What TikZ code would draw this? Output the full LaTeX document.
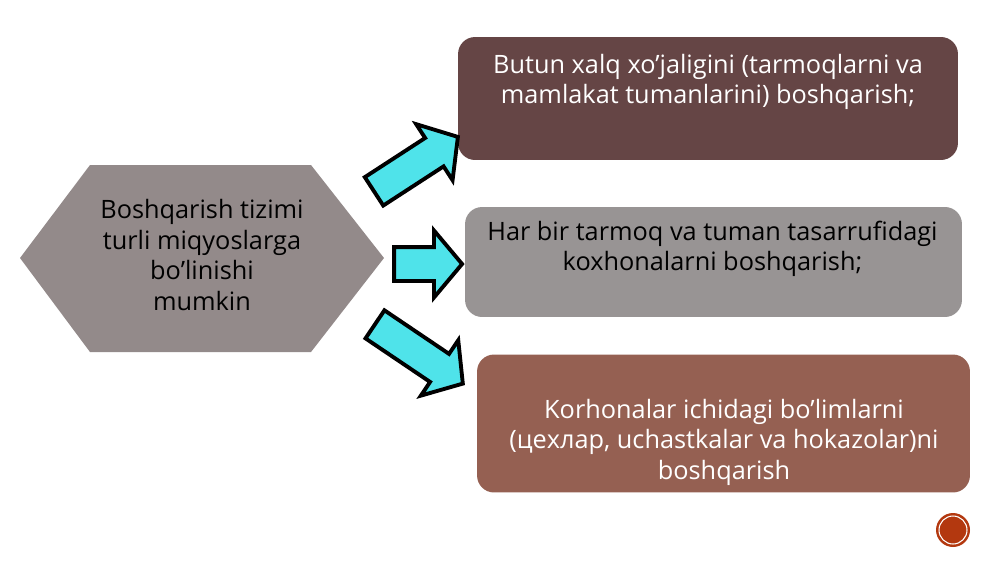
\documentclass[tikz,border=0pt]{standalone}
\usepackage{fontspec}
\setmainfont{Open Sans}
\usetikzlibrary{shapes.arrows}
\definecolor{hexgrey}{HTML}{938A8A}
\definecolor{darkbrown}{HTML}{654545}
\definecolor{midgrey}{HTML}{989494}
\definecolor{rustbrown}{HTML}{956052}
\definecolor{arrowcyan}{HTML}{4FE3EA}
\definecolor{dotred}{HTML}{B3380F}
\begin{document}
\begin{tikzpicture}[x=0.02cm, y=-0.02cm,
        txt/.style={font=\fontsize{14.4}{17.4}\selectfont, align=center},
        box/.style={rounded corners=0.34cm, minimum width=#1},
        fatarrow/.style={single arrow, draw=black, line width=2.2pt, fill=arrowcyan,
            inner xsep=0pt, inner ysep=0.3cm, single arrow head extend=0.33cm,
            single arrow tip angle=100, minimum height=#1}]
        \useasboundingbox (0,0) rectangle (1000,562);
        \fill[hexgrey] (20,258) -- (90,165) -- (311,165) -- (384,258) -- (311,352) -- (90,352) -- cycle;
        \node[txt] (hexText) at (202,255) {Boshqarish tizimi\\turli miqyoslarga\\bo’linishi\\mumkin};
        \node[box=10cm, fill=darkbrown, minimum height=2.46cm] (topBox) at (708,98.5) {};
        \node[txt, white] (topText) at (708,82) {Butun xalq xo’jaligini (tarmoqlarni va\\mamlakat tumanlarini) boshqarish;};
        \node[box=9.94cm, fill=midgrey, minimum height=2.2cm] (midBox) at (713.5,262) {};
        \node[txt] (midText) at (712.5,249) {Har bir tarmoq va tuman tasarrufidagi\\koxhonalarni boshqarish;};
        \node[box=9.86cm, fill=rustbrown, minimum height=2.76cm] (lowBox) at (723.5,423.5) {};
        \node[txt, white] (lowText) at (724,442) {Korhonalar ichidagi bo’limlarni\\(цехлар, uchastkalar va hokazolar)ni\\boshqarish};
        \node[fatarrow=2.0cm, rotate=33] (upArrow) at (410,168) {};
        \node[fatarrow=1.36cm] (midArrow) at (421,264) {};
        \node[fatarrow=2.12cm, rotate=-34] (downArrow) at (413,350) {};
        \node[circle, fill=dotred, minimum size=0.68cm, inner sep=0pt] (pageDot) at (953,530) {};
        \draw[white, line width=0.6pt] (pageDot.center) circle (0.28cm);
    \end{tikzpicture}
\end{document}
